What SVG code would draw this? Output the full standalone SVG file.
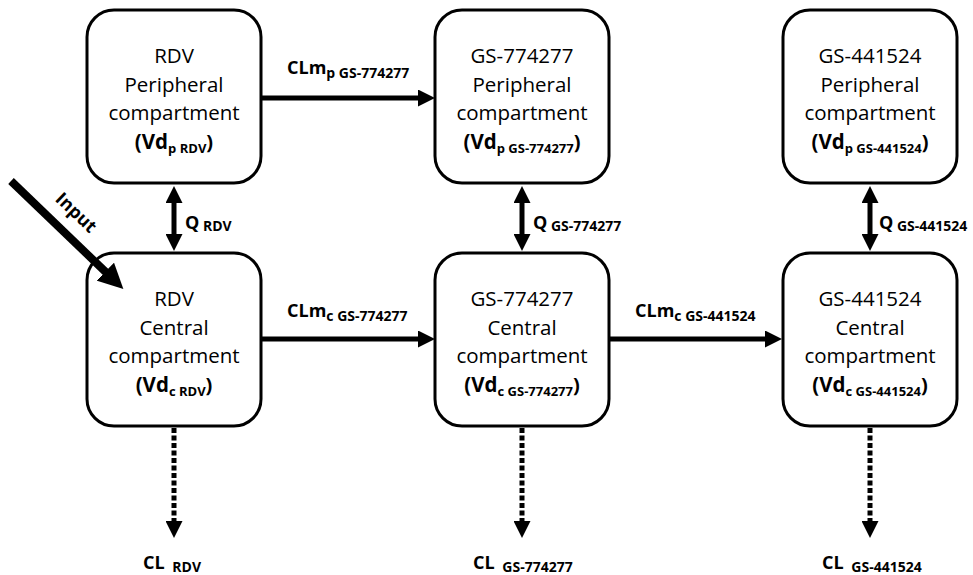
<svg xmlns="http://www.w3.org/2000/svg" width="973" height="575" viewBox="0 0 973 575">
<style>
.box{fill:#fff;stroke:#000;stroke-width:3}
.t{font-family:"Open Sans","Liberation Sans",sans-serif;font-size:20.5px;fill:#000;text-anchor:middle}
.b{font-weight:bold}
.lbl{font-family:"Open Sans","Liberation Sans",sans-serif;font-weight:bold;font-size:18px;fill:#000}
.sub{font-size:14px}
.vsub{font-size:13px}
.con{stroke:#000;stroke-width:5;fill:none}
.dash{stroke-dasharray:5 2.5}
</style>
<defs>
<marker id="arr" markerUnits="userSpaceOnUse" markerWidth="17" markerHeight="17" viewBox="0 0 17 17" refX="9" refY="8.5" orient="auto-start-reverse">
<path d="M0,0 L17,8.5 L0,17 z" fill="#000"/>
</marker>
<marker id="arrBig" markerUnits="userSpaceOnUse" markerWidth="25" markerHeight="25" viewBox="0 0 25 25" refX="12" refY="12.5" orient="auto">
<path d="M0,0 L25,12.5 L0,25 z" fill="#000"/>
</marker>
</defs>

<g id="rdv-peripheral">
<rect class="box" x="87" y="10" width="174" height="173" rx="27"/>
<text class="t" x="174" y="63">RDV</text>
<text class="t" x="174" y="92">Peripheral</text>
<text class="t" x="174" y="120">compartment</text>
<text class="t b" x="174" y="149" font-size="20">(Vd<tspan class="vsub" dy="4">p RDV</tspan><tspan dy="-4" font-size="20">)</tspan></text>
</g>

<g id="gs774277-peripheral">
<rect class="box" x="435" y="10" width="174" height="173" rx="27"/>
<text class="t" x="522" y="63">GS-774277</text>
<text class="t" x="522" y="92">Peripheral</text>
<text class="t" x="522" y="120">compartment</text>
<text class="t b" x="522" y="149" font-size="20">(Vd<tspan class="vsub" dy="4">p GS-774277</tspan><tspan dy="-4" font-size="20">)</tspan></text>
</g>

<g id="gs441524-peripheral">
<rect class="box" x="783" y="10" width="174" height="173" rx="27"/>
<text class="t" x="870" y="63">GS-441524</text>
<text class="t" x="870" y="92">Peripheral</text>
<text class="t" x="870" y="120">compartment</text>
<text class="t b" x="870" y="149" font-size="20">(Vd<tspan class="vsub" dy="4">p GS-441524</tspan><tspan dy="-4" font-size="20">)</tspan></text>
</g>

<g id="rdv-central">
<rect class="box" x="87" y="253" width="174" height="173" rx="27"/>
<text class="t" x="174" y="306">RDV</text>
<text class="t" x="174" y="335">Central</text>
<text class="t" x="174" y="363">compartment</text>
<text class="t b" x="174" y="392" font-size="20">(Vd<tspan class="vsub" dy="4">c RDV</tspan><tspan dy="-4" font-size="20">)</tspan></text>
</g>

<g id="gs774277-central">
<rect class="box" x="435" y="253" width="174" height="173" rx="27"/>
<text class="t" x="522" y="306">GS-774277</text>
<text class="t" x="522" y="335">Central</text>
<text class="t" x="522" y="363">compartment</text>
<text class="t b" x="522" y="392" font-size="20">(Vd<tspan class="vsub" dy="4">c GS-774277</tspan><tspan dy="-4" font-size="20">)</tspan></text>
</g>

<g id="gs441524-central">
<rect class="box" x="783" y="253" width="174" height="173" rx="27"/>
<text class="t" x="870" y="306">GS-441524</text>
<text class="t" x="870" y="335">Central</text>
<text class="t" x="870" y="363">compartment</text>
<text class="t b" x="870" y="392" font-size="20">(Vd<tspan class="vsub" dy="4">c GS-441524</tspan><tspan dy="-4" font-size="20">)</tspan></text>
</g>

<g id="connectors">
<line class="con" x1="261" y1="98" x2="427" y2="98" marker-end="url(#arr)"/>
<line class="con" x1="261" y1="339" x2="427" y2="339" marker-end="url(#arr)"/>
<line class="con" x1="609" y1="339" x2="774" y2="339" marker-end="url(#arr)"/>
<line class="con" x1="174" y1="194" x2="174" y2="243" marker-start="url(#arr)" marker-end="url(#arr)"/>
<line class="con" x1="522" y1="194" x2="522" y2="243" marker-start="url(#arr)" marker-end="url(#arr)"/>
<line class="con" x1="870" y1="194" x2="870" y2="243" marker-start="url(#arr)" marker-end="url(#arr)"/>
<line class="con dash" x1="174" y1="428" x2="174" y2="530" marker-end="url(#arr)"/>
<line class="con dash" x1="522" y1="428" x2="522" y2="530" marker-end="url(#arr)"/>
<line class="con dash" x1="870" y1="428" x2="870" y2="530" marker-end="url(#arr)"/>
<line x1="11" y1="181" x2="114" y2="280" stroke="#000" stroke-width="8" marker-end="url(#arrBig)"/>
<text class="lbl" transform="translate(72,217) rotate(43.7)" text-anchor="middle" font-size="17">Input</text>
<text class="lbl" x="287" y="74">CLm<tspan class="sub" dy="4">p GS-774277</tspan></text>
<text class="lbl" x="287" y="317">CLm<tspan class="sub" dy="4">c GS-774277</tspan></text>
<text class="lbl" x="635" y="317">CLm<tspan class="sub" dy="4">c GS-441524</tspan></text>
<text class="lbl" x="185" y="229">Q<tspan class="sub" dy="2"> RDV</tspan></text>
<text class="lbl" x="533" y="229">Q<tspan class="sub" dy="2"> GS-774277</tspan></text>
<text class="lbl" x="879" y="229">Q<tspan class="sub" dy="2"> GS-441524</tspan></text>
<text class="lbl" x="143" y="569">CL<tspan class="sub" dy="3" dx="4"> RDV</tspan></text>
<text class="lbl" x="473" y="569">CL<tspan class="sub" dy="3" dx="4"> GS-774277</tspan></text>
<text class="lbl" x="822" y="569">CL<tspan class="sub" dy="3" dx="4"> GS-441524</tspan></text>
</g>
</svg>
